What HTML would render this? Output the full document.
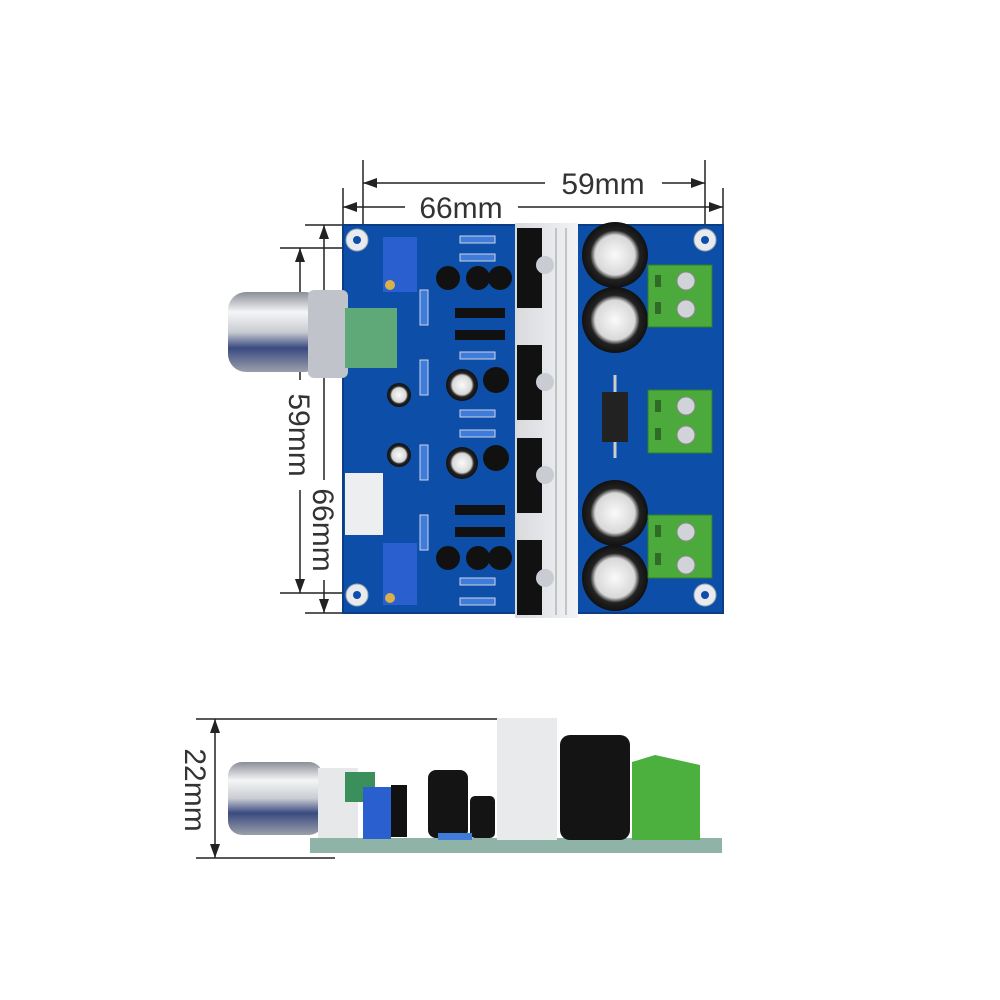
<!DOCTYPE html>
<html><head><meta charset="utf-8"><style>
html,body{margin:0;padding:0;background:#fff;}
svg{display:block;}
text{font-family:"Liberation Sans",sans-serif;fill:#333;}
</style></head><body>
<svg width="1000" height="1000" viewBox="0 0 1000 1000" xmlns="http://www.w3.org/2000/svg">
<defs>
<linearGradient id="knob" x1="0" y1="0" x2="0" y2="1">
<stop offset="0" stop-color="#8a8e96"/><stop offset="0.25" stop-color="#f4f5f7"/><stop offset="0.5" stop-color="#c9ccd2"/><stop offset="0.7" stop-color="#3a4a80"/><stop offset="1" stop-color="#9aa0aa"/>
</linearGradient>
<radialGradient id="cap"><stop offset="0" stop-color="#fafafa"/><stop offset="0.6" stop-color="#d8d8d8"/><stop offset="0.75" stop-color="#222"/><stop offset="1" stop-color="#111"/></radialGradient>
<linearGradient id="hs" x1="0" y1="0" x2="1" y2="0"><stop offset="0" stop-color="#d8dade"/><stop offset="1" stop-color="#f2f3f5"/></linearGradient>
</defs>

<g stroke="#222" stroke-width="1.5" fill="none">
<line x1="363" y1="160" x2="363" y2="245"/>
<line x1="705" y1="160" x2="705" y2="245"/>
<line x1="343" y1="188" x2="343" y2="225"/>
<line x1="723" y1="188" x2="723" y2="225"/>
<line x1="363" y1="183" x2="545" y2="183"/>
<line x1="662" y1="183" x2="705" y2="183"/>
<line x1="343" y1="207" x2="405" y2="207"/>
<line x1="518" y1="207" x2="723" y2="207"/>
<line x1="280" y1="248" x2="362" y2="248"/>
<line x1="280" y1="593" x2="362" y2="593"/>
<line x1="305" y1="225" x2="343" y2="225"/>
<line x1="305" y1="613" x2="343" y2="613"/>
<line x1="300" y1="248" x2="300" y2="380"/>
<line x1="300" y1="490" x2="300" y2="593"/>
<line x1="324" y1="225" x2="324" y2="480"/>
<line x1="324" y1="580" x2="324" y2="613"/>
</g>
<g fill="#222">
<polygon points="363,183 377,178 377,188"/><polygon points="705,183 691,178 691,188"/>
<polygon points="343,207 357,202 357,212"/><polygon points="723,207 709,202 709,212"/>
<polygon points="300,248 295,262 305,262"/><polygon points="300,593 295,579 305,579"/>
<polygon points="324,225 319,239 329,239"/><polygon points="324,613 319,599 329,599"/>
</g>
<text x="603" y="194" font-size="30" text-anchor="middle">59mm</text>
<text x="461" y="218" font-size="30" text-anchor="middle">66mm</text>
<text transform="translate(289,435) rotate(90)" font-size="30" text-anchor="middle">59mm</text>
<text transform="translate(313,530) rotate(90)" font-size="30" text-anchor="middle">66mm</text>

<rect x="343" y="225" width="380" height="388" fill="#0d4fa8"/>
<rect x="343" y="225" width="380" height="388" fill="none" stroke="#0a3d85" stroke-width="2"/>
<g fill="#e8eaf0" stroke="#9aa" stroke-width="1">
<circle cx="357" cy="240" r="11"/><circle cx="705" cy="240" r="11"/><circle cx="357" cy="595" r="11"/><circle cx="705" cy="595" r="11"/></g>
<g fill="#0d4fa8"><circle cx="357" cy="240" r="4"/><circle cx="705" cy="240" r="4"/><circle cx="357" cy="595" r="4"/><circle cx="705" cy="595" r="4"/></g>

<rect x="228" y="292" width="95" height="80" rx="18" fill="url(#knob)"/>
<rect x="308" y="290" width="40" height="88" rx="6" fill="#c0c4ca"/>
<rect x="345" y="308" width="52" height="60" fill="#5fa878"/>
<rect x="383" y="237" width="34" height="55" fill="#2a5fd0"/><circle cx="390" cy="285" r="5" fill="#d9b14a"/>
<rect x="383" y="543" width="34" height="62" fill="#2a5fd0"/><circle cx="390" cy="598" r="5" fill="#d9b14a"/>
<rect x="345" y="473" width="38" height="62" fill="#eceef0"/>
<circle cx="399" cy="395" r="12" fill="url(#cap)"/><circle cx="399" cy="455" r="12" fill="url(#cap)"/>
<circle cx="462" cy="385" r="16" fill="url(#cap)"/><circle cx="462" cy="463" r="16" fill="url(#cap)"/>
<g fill="#111">
<circle cx="448" cy="278" r="12"/><circle cx="478" cy="278" r="12"/><circle cx="500" cy="278" r="12"/>
<circle cx="496" cy="380" r="13"/><circle cx="496" cy="458" r="13"/>
<circle cx="448" cy="558" r="12"/><circle cx="478" cy="558" r="12"/><circle cx="500" cy="558" r="12"/>
<rect x="455" y="308" width="50" height="10"/><rect x="455" y="330" width="50" height="10"/>
<rect x="455" y="505" width="50" height="10"/><rect x="455" y="527" width="50" height="10"/>
</g>
<g fill="#3f7bd8" stroke="#cfd6e6" stroke-width="1">
<rect x="460" y="236" width="35" height="7"/><rect x="460" y="254" width="35" height="7"/>
<rect x="460" y="352" width="35" height="7"/><rect x="460" y="410" width="35" height="7"/>
<rect x="460" y="430" width="35" height="7"/><rect x="460" y="578" width="35" height="7"/><rect x="460" y="598" width="35" height="7"/>
<rect x="420" y="290" width="8" height="35"/><rect x="420" y="360" width="8" height="35"/>
<rect x="420" y="445" width="8" height="35"/><rect x="420" y="515" width="8" height="35"/>
</g>
<rect x="515" y="223" width="63" height="395" fill="url(#hs)"/>
<g fill="#111"><rect x="517" y="228" width="25" height="80"/><rect x="517" y="345" width="25" height="75"/><rect x="517" y="438" width="25" height="75"/><rect x="517" y="540" width="25" height="75"/></g>
<g fill="#c9ccd2"><circle cx="545" cy="265" r="9"/><circle cx="545" cy="382" r="9"/><circle cx="545" cy="475" r="9"/><circle cx="545" cy="578" r="9"/></g>
<g stroke="#999" stroke-width="1"><line x1="556" y1="228" x2="556" y2="615"/><line x1="566" y1="228" x2="566" y2="615"/></g>
<circle cx="615" cy="255" r="33" fill="url(#cap)"/><circle cx="615" cy="320" r="33" fill="url(#cap)"/>
<circle cx="615" cy="513" r="33" fill="url(#cap)"/><circle cx="615" cy="578" r="33" fill="url(#cap)"/>
<line x1="615" y1="375" x2="615" y2="458" stroke="#ccc" stroke-width="3"/>
<rect x="602" y="392" width="26" height="50" fill="#222"/>
<g fill="#4caa3c" stroke="#2f7d28" stroke-width="1">
<rect x="648" y="265" width="64" height="62"/><rect x="648" y="390" width="64" height="63"/><rect x="648" y="515" width="64" height="63"/></g>
<g fill="#2f6a26"><rect x="655" y="275" width="6" height="12"/><rect x="655" y="302" width="6" height="12"/><rect x="655" y="400" width="6" height="12"/><rect x="655" y="428" width="6" height="12"/><rect x="655" y="525" width="6" height="12"/><rect x="655" y="553" width="6" height="12"/></g>
<g fill="#d0d3d8" stroke="#888"><circle cx="686" cy="281" r="9"/><circle cx="686" cy="309" r="9"/><circle cx="686" cy="406" r="9"/><circle cx="686" cy="435" r="9"/><circle cx="686" cy="532" r="9"/><circle cx="686" cy="565" r="9"/></g>

<g stroke="#222" stroke-width="1.5" fill="none">
<line x1="196" y1="719" x2="497" y2="719"/>
<line x1="196" y1="858" x2="335" y2="858"/>
<line x1="215" y1="719" x2="215" y2="858"/>
</g>
<polygon points="215,719 210,733 220,733" fill="#222"/><polygon points="215,858 210,844 220,844" fill="#222"/>
<text transform="translate(185,790) rotate(90)" font-size="30" text-anchor="middle">22mm</text>
<rect x="310" y="838" width="412" height="15" fill="#8fb3a6"/>
<rect x="497" y="718" width="60" height="122" fill="#e9eaec"/>
<rect x="560" y="735" width="70" height="105" rx="10" fill="#141414"/>
<polygon points="632,762 655,755 700,765 700,840 632,840" fill="#4cb03e"/>
<rect x="228" y="762" width="95" height="73" rx="14" fill="url(#knob)"/>
<rect x="318" y="768" width="40" height="70" fill="#e6e8ea"/>
<rect x="345" y="772" width="30" height="30" fill="#3a8f5a"/>
<rect x="363" y="787" width="28" height="52" fill="#2a5fd0"/>
<rect x="391" y="785" width="16" height="52" fill="#111"/>
<rect x="428" y="770" width="40" height="68" rx="8" fill="#141414"/>
<rect x="470" y="796" width="25" height="42" rx="5" fill="#141414"/>
<rect x="438" y="833" width="34" height="7" fill="#3f7bd8"/>
</svg>
</body></html>
